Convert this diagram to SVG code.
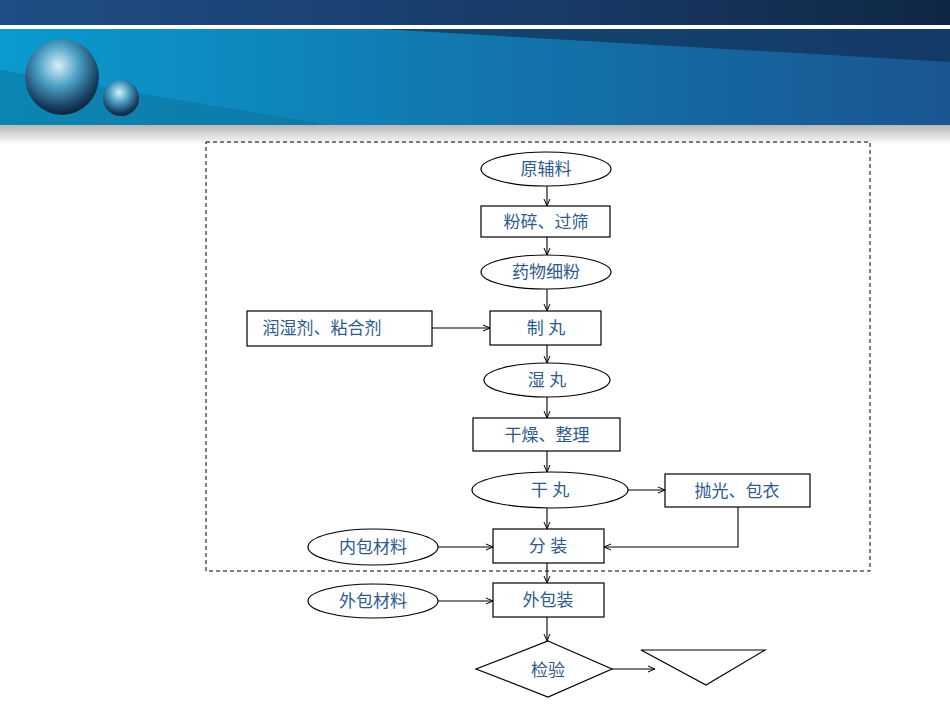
<svg xmlns="http://www.w3.org/2000/svg" width="950" height="713" viewBox="0 0 950 713">
<defs>
<linearGradient id="top" x1="0" x2="1"><stop offset="0" stop-color="#1f4e86"/><stop offset="0.6" stop-color="#183a66"/><stop offset="1" stop-color="#0f2744"/></linearGradient>
<linearGradient id="band" x1="0" x2="1"><stop offset="0" stop-color="#0a9bd0"/><stop offset="0.5" stop-color="#1277ad"/><stop offset="1" stop-color="#1a5592"/></linearGradient>
<linearGradient id="gray" x1="0" y1="0" x2="0" y2="1"><stop offset="0" stop-color="#b8b8b8"/><stop offset="1" stop-color="#ffffff"/></linearGradient>
<radialGradient id="ball" cx="0.45" cy="0.35" r="0.7"><stop offset="0" stop-color="#d8f0fa"/><stop offset="0.4" stop-color="#4a9ec4"/><stop offset="0.8" stop-color="#163a5c"/><stop offset="1" stop-color="#0a1a2c"/></radialGradient>
<marker id="ah" markerWidth="8" markerHeight="8" refX="7" refY="4" orient="auto" markerUnits="userSpaceOnUse"><path d="M0,1 L7,4 L0,7" fill="none" stroke="#000" stroke-width="1"/></marker>
</defs>
<style>
.n{fill:#fff;stroke:#000;stroke-width:1.2}
.t{font-family:"Liberation Sans","Noto Sans CJK SC",sans-serif;font-size:17px;fill:#2e5a8c;text-anchor:middle;dominant-baseline:central}
.c{fill:none;stroke:#000;stroke-width:1.1;marker-end:url(#ah)}
</style>
<rect width="950" height="713" fill="#fff"/>
<rect x="0" y="0" width="950" height="25" fill="url(#top)"/>
<rect x="0" y="29" width="950" height="96" fill="url(#band)"/>
<polygon points="380,29 950,29 950,62" fill="#132f55" opacity="0.7"/>
<polygon points="0,70 330,125 0,125" fill="#0e6f96" opacity="0.5"/>
<rect x="0" y="125" width="950" height="20" fill="url(#gray)"/>
<ellipse cx="62" cy="77" rx="37" ry="38" fill="url(#ball)"/>
<ellipse cx="121" cy="98" rx="18" ry="18" fill="url(#ball)"/>
<rect x="206" y="142" width="664" height="429" fill="none" stroke="#000" stroke-dasharray="4,3"/>
<g id="connectors">
<path class="c" d="M547,186V206"/>
<path class="c" d="M547,237V255"/>
<path class="c" d="M547,289V311"/>
<path class="c" d="M432,328H490"/>
<path class="c" d="M547,345V363"/>
<path class="c" d="M547,397V418"/>
<path class="c" d="M547,451V472"/>
<path class="c" d="M628,490H665"/>
<path class="c" d="M547,508V529"/>
<path class="c" d="M738,507V547H604"/>
<path class="c" d="M438,547H493"/>
<path class="c" d="M547,563V583"/>
<path class="c" d="M438,601H493"/>
<path class="c" d="M547,617V641"/>
<path class="c" d="M612,669H655"/>
</g>
<g id="n1"><ellipse class="n" cx="546" cy="169" rx="65" ry="17"/><text class="t" x="546" y="169">原辅料</text></g>
<g id="n2"><rect class="n" x="481" y="206" width="129" height="31"/><text class="t" x="546" y="222">粉碎、过筛</text></g>
<g id="n3"><ellipse class="n" cx="546" cy="272" rx="65" ry="17"/><text class="t" x="546" y="272">药物细粉</text></g>
<g id="n4"><rect class="n" x="490" y="311" width="111" height="34"/><text class="t" x="546" y="328">制  丸</text></g>
<g id="n5"><rect class="n" x="247" y="311" width="185" height="35"/><text class="t" x="322" y="328">润湿剂、粘合剂</text></g>
<g id="n6"><ellipse class="n" cx="547" cy="380" rx="63" ry="17"/><text class="t" x="547" y="380">湿  丸</text></g>
<g id="n7"><rect class="n" x="473" y="418" width="147" height="33"/><text class="t" x="547" y="435">干燥、整理</text></g>
<g id="n8"><ellipse class="n" cx="550" cy="490" rx="78" ry="18"/><text class="t" x="550" y="490">干  丸</text></g>
<g id="n9"><rect class="n" x="665" y="474" width="145" height="33"/><text class="t" x="737" y="491">抛光、包衣</text></g>
<g id="n10"><rect class="n" x="493" y="529" width="111" height="34"/><text class="t" x="548" y="546">分  装</text></g>
<g id="n11"><ellipse class="n" cx="373" cy="547" rx="65" ry="18"/><text class="t" x="373" y="547">内包材料</text></g>
<g id="n12"><rect class="n" x="493" y="583" width="111" height="34"/><text class="t" x="548" y="600">外包装</text></g>
<g id="n13"><ellipse class="n" cx="373" cy="601" rx="65" ry="17"/><text class="t" x="373" y="601">外包材料</text></g>
<g id="n14"><polygon class="n" points="548,641 612,669 548,697 476,669"/><text class="t" x="548" y="670">检验</text></g>
<g id="n15"><polygon class="n" points="641,650 765,650 706,685"/></g>
</svg>
